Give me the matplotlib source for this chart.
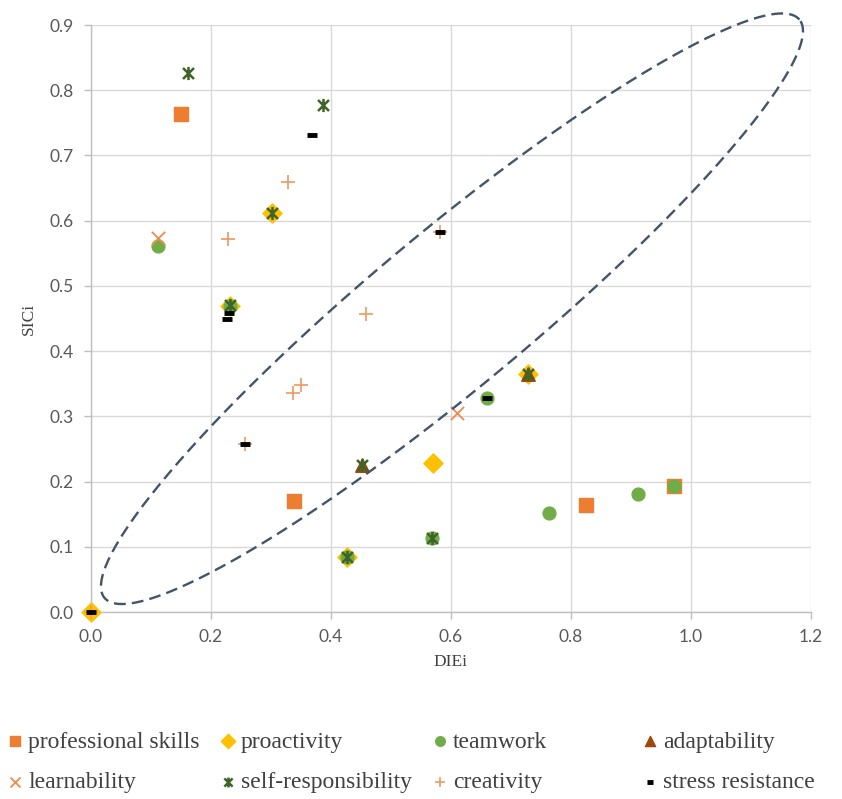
import numpy as np
import matplotlib
matplotlib.use("Agg")
import matplotlib.pyplot as plt
from matplotlib.path import Path

# DIEi / SICi coordinates for each competency
prof_x = [0.151, 0.339, 0.825, 0.971]
prof_y = [0.764, 0.170, 0.164, 0.193]

proact_x = [0.0, 0.302, 0.232, 0.570, 0.427, 0.729]
proact_y = [0.0, 0.612, 0.469, 0.229, 0.084, 0.365]

team_x = [0.112, 0.232, 0.427, 0.569, 0.660, 0.764, 0.912, 0.971]
team_y = [0.561, 0.469, 0.084, 0.113, 0.328, 0.152, 0.181, 0.193]

adapt_x = [0.452, 0.729]
adapt_y = [0.225, 0.365]

learn_x = [0.112, 0.610]
learn_y = [0.574, 0.305]

selfresp_x = [0.163, 0.387, 0.302, 0.232, 0.452, 0.427, 0.569, 0.729]
selfresp_y = [0.826, 0.778, 0.612, 0.471, 0.225, 0.084, 0.113, 0.365]

creat_x = [0.0, 0.329, 0.229, 0.582, 0.459, 0.337, 0.350, 0.257]
creat_y = [0.0, 0.660, 0.572, 0.583, 0.457, 0.336, 0.348, 0.258]

stress_x = [0.0, 0.369, 0.582, 0.230, 0.228, 0.257, 0.660]
stress_y = [0.0, 0.732, 0.583, 0.459, 0.450, 0.258, 0.328]

# ellipse around the diagonal band: centre and half-axis vectors
ell_center = (0.602, 0.465)
ell_major = (0.5787, 0.4433)
ell_minor = (-0.0831, 0.0920)

# Excel style "star" marker: an X with a vertical bar through it
star = Path(
    [(-1, -1), (1, 1), (-1, 1), (1, -1), (0, -1.2), (0, 1.2)],
    [Path.MOVETO, Path.LINETO, Path.MOVETO, Path.LINETO, Path.MOVETO, Path.LINETO],
)

series = [
    ("professional skills", prof_x, prof_y,
     dict(marker="s", s=95, color="#ED7D31")),
    ("proactivity", proact_x, proact_y,
     dict(marker="D", s=95, color="#FFC000")),
    ("teamwork", team_x, team_y,
     dict(marker="o", s=85, color="#70AD47")),
    ("adaptability", adapt_x, adapt_y,
     dict(marker="^", s=95, color="#9E480E")),
    ("learnability", learn_x, learn_y,
     dict(marker="x", s=90, color="#F08A50", linewidths=1.3)),
    ("self-responsibility", selfresp_x, selfresp_y,
     dict(marker=star, s=90, color="#3F6428", linewidths=1.8)),
    ("creativity", creat_x, creat_y,
     dict(marker="+", s=110, color="#EE9A60", linewidths=1.2)),
    ("stress resistance", stress_x, stress_y,
     dict(marker="_", s=45, color="black", linewidths=3.5)),
]

fig = plt.figure(figsize=(8.42, 7.99), dpi=100)
ax = fig.add_axes([0.1075, 0.234, 0.8557, 0.7347])

for name, xs, ys, style in series:
    ax.scatter(xs, ys, label=name, zorder=3, clip_on=False, **style)

t = np.linspace(0, 2 * np.pi, 400)
ex = ell_center[0] + ell_major[0] * np.cos(t) + ell_minor[0] * np.sin(t)
ey = ell_center[1] + ell_major[1] * np.cos(t) + ell_minor[1] * np.sin(t)
ax.plot(ex, ey, color="#44546A", lw=1.7, linestyle=(0, (5, 2.6)),
        zorder=4, clip_on=False)

ax.set_xlim(0, 1.2)
ax.set_ylim(0, 0.9)
ax.set_xticks(np.arange(0, 1.21, 0.2))
ax.set_yticks(np.arange(0, 0.91, 0.1))
ax.xaxis.set_major_formatter(matplotlib.ticker.FormatStrFormatter("%.1f"))
ax.yaxis.set_major_formatter(matplotlib.ticker.FormatStrFormatter("%.1f"))
ax.grid(True, color="#D9D9D9", lw=1.0, zorder=0)
ax.set_axisbelow(True)
for side in ["top", "right"]:
    ax.spines[side].set_visible(False)
for side in ["left", "bottom"]:
    ax.spines[side].set_color("#BFBFBF")
    ax.spines[side].set_linewidth(1.0)
ax.tick_params(length=5, width=1.0, color="#BFBFBF", pad=7,
               labelsize=12.5, labelcolor="#595959")
for lab in ax.get_xticklabels() + ax.get_yticklabels():
    lab.set_fontfamily("Lato")

ax.set_xlabel("DIEi", fontfamily="Liberation Serif", fontsize=12.5,
              color="#404040", labelpad=7)
ax.set_ylabel("SICi", fontfamily="Liberation Serif", fontsize=12.5,
              color="#404040", labelpad=9)

# legend: four columns, two rows, placed under the plot
handles = []
for name, xs, ys, style in series:
    h = ax.scatter([], [], **style)
    handles.append((h, name))

col_x = [16, 229, 441, 651]
for c in range(4):
    pair = [handles[c], handles[c + 4]]
    fig.legend(
        [p[0] for p in pair], [p[1] for p in pair],
        loc="upper left",
        bbox_to_anchor=((col_x[c] - 8) / 842, 1 - 731 / 799),
        frameon=False,
        ncol=1,
        handlelength=0.6,
        handletextpad=0.25,
        borderpad=0,
        borderaxespad=0,
        labelspacing=0.8,
        scatterpoints=1,
        markerscale=0.75,
        prop={"family": "Liberation Serif", "size": 17},
        labelcolor="#404040",
    )

fig.savefig("out.png", dpi=100)
